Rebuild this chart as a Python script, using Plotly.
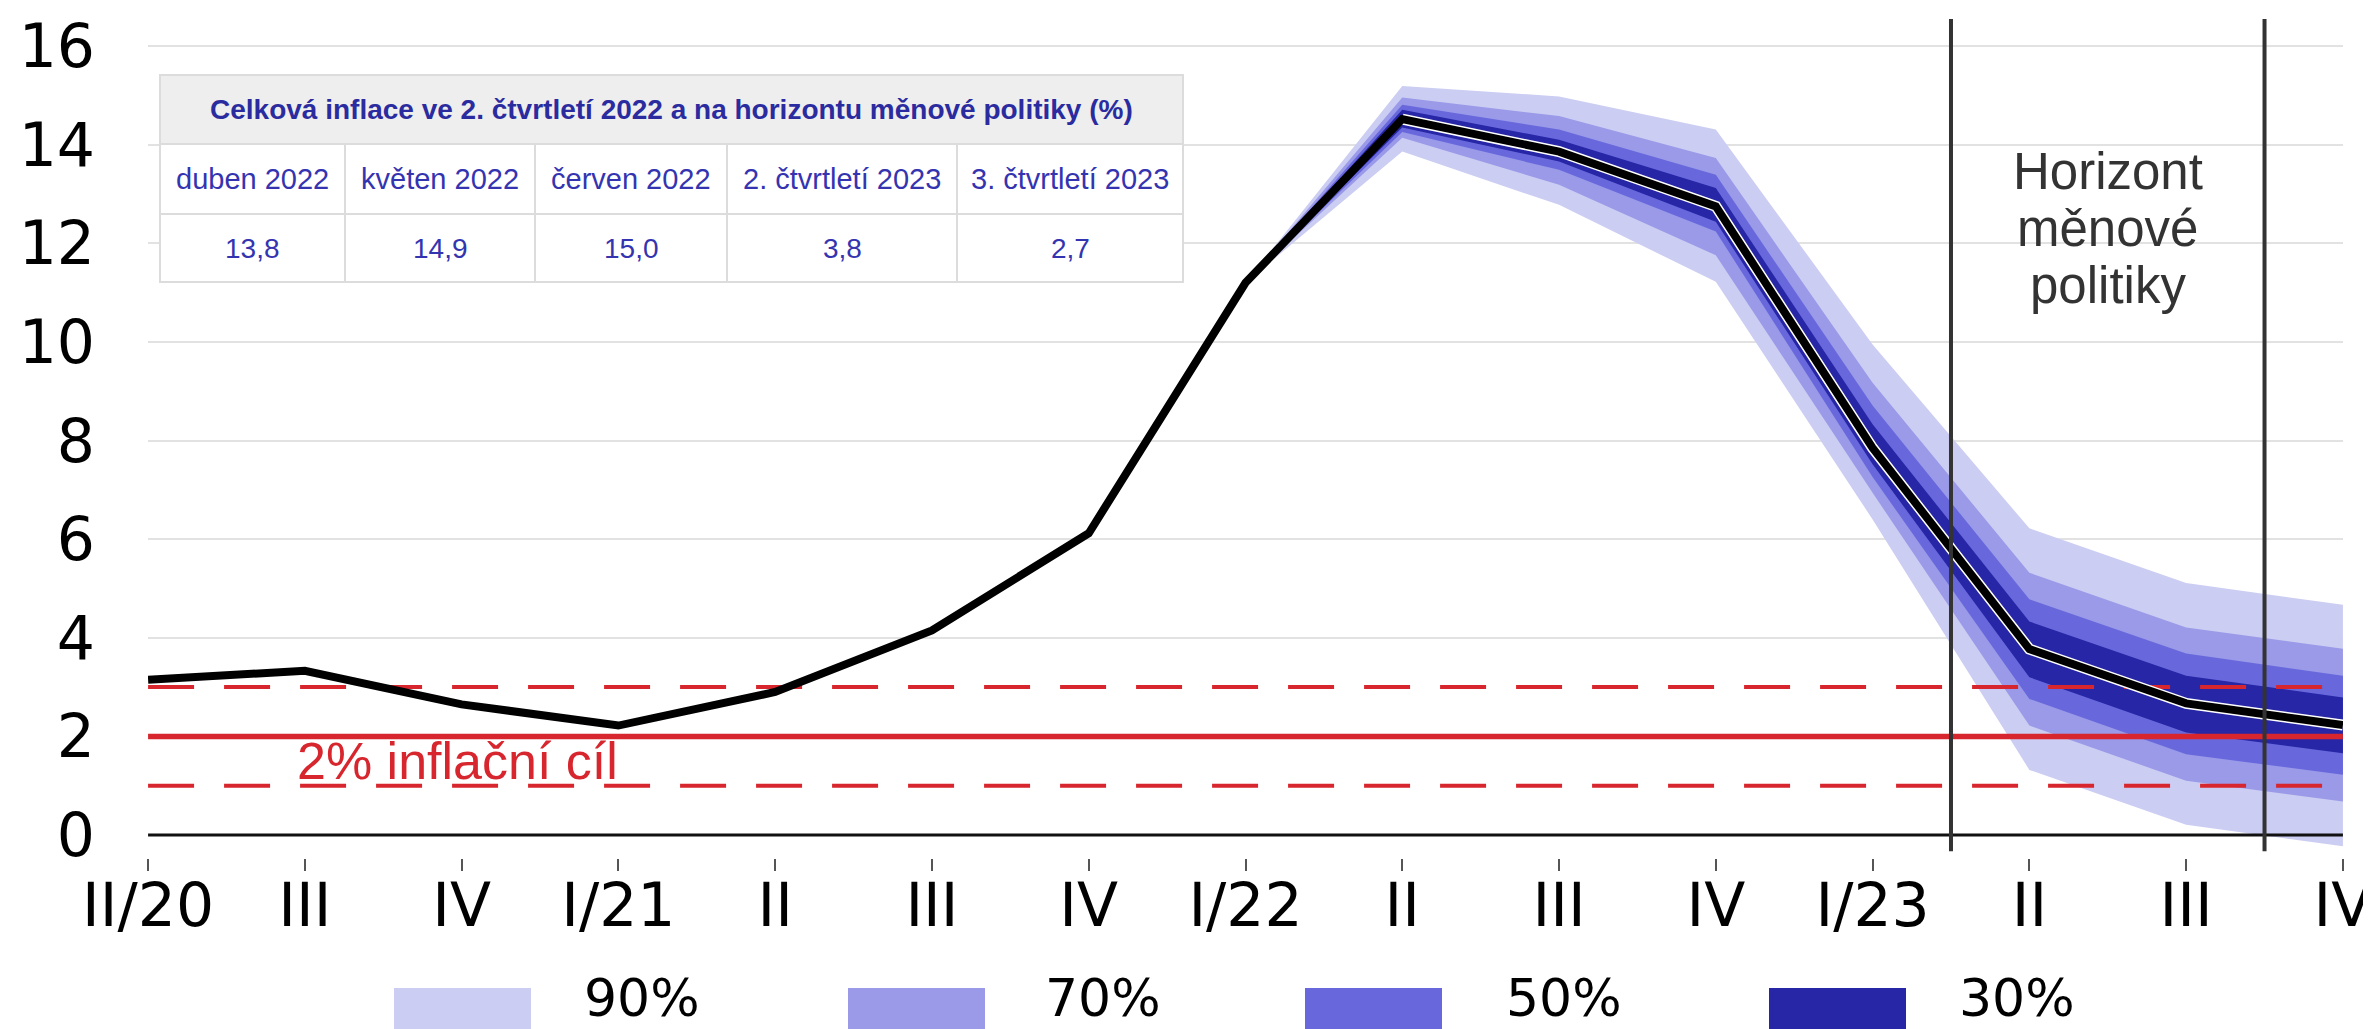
import plotly.graph_objects as go

# ---------------- data ----------------
quarters = ["II/20", "III", "IV", "I/21", "II", "III", "IV", "I/22",
            "II", "III", "IV", "I/23", "II", "III", "IV"]
inflation = [3.15, 3.33, 2.65, 2.22, 2.90, 4.15, 6.12, 11.2,
             14.52, 13.86, 12.75, 7.85, 3.77, 2.67, 2.23]

fan_start = 7  # index of I/22 where the fan opens
band_labels = ["90%", "70%", "50%", "30%"]
band_colors = ["#cccdf2", "#9a9ae9", "#6868dc", "#2626a6"]
band_upper = {
    "90%": [11.2, 15.19, 14.98, 14.31, 9.95, 6.22, 5.11, 4.67],
    "70%": [11.2, 14.96, 14.58, 13.73, 9.17, 5.32, 4.21, 3.78],
    "50%": [11.2, 14.81, 14.31, 13.39, 8.71, 4.78, 3.68, 3.23],
    "30%": [11.2, 14.71, 14.10, 13.12, 8.33, 4.33, 3.23, 2.79],
}
band_lower = {
    "90%": [11.2, 13.86, 12.78, 11.22, 6.40, 1.32, 0.21, -0.23],
    "70%": [11.2, 14.14, 13.19, 11.76, 6.94, 2.22, 1.10, 0.68],
    "50%": [11.2, 14.26, 13.49, 12.24, 7.26, 2.76, 1.64, 1.22],
    "30%": [11.2, 14.35, 13.66, 12.44, 7.52, 3.20, 2.08, 1.66],
}

target = 2.0
tolerance = [1.0, 3.0]
target_label = "2% inflační cíl"

horizon_bounds = [11.5, 13.5]
horizon_lines = ["Horizont", "měnové", "politiky"]

table_title = "Celková inflace ve 2. čtvrtletí 2022 a na horizontu měnové politiky (%)"
table_cols = ["duben 2022", "květen 2022", "červen 2022", "2. čtvrtletí 2023", "3. čtvrtletí 2023"]
table_vals = [13.8, 14.9, 15.0, 3.8, 2.7]

y_ticks = [0, 2, 4, 6, 8, 10, 12, 14, 16]

# ---------------- geometry (pixels) ----------------
W, H = 2371, 1029
ML, MR, MT, MB = 140, 36, 10, 179
PW, PH = W - ML - MR, H - MT - MB
Y_RANGE = [-0.466, 16.57]


def px_x(p):
    return (p - ML) / PW


def px_y(p):
    return (H - MB - p) / PH


FONT = "Liberation Sans, Arial, sans-serif"
WIDE = "DejaVu Sans, Liberation Sans, sans-serif"
RED = "#d7262d"

x_idx = list(range(len(quarters)))
fan_x = x_idx[fan_start:]

fig = go.Figure()

# fan bands (widest first)
for lab, col in zip(band_labels, band_colors):
    up = band_upper[lab]
    lo = band_lower[lab]
    fig.add_trace(go.Scatter(
        x=fan_x + fan_x[::-1], y=up + lo[::-1],
        fill="toself", fillcolor=col, mode="lines",
        line=dict(width=0, color=col), hoverinfo="skip", showlegend=False))

# target and tolerance band
x_ends = [x_idx[0], x_idx[-1]]
for t in tolerance:
    fig.add_trace(go.Scatter(x=x_ends, y=[t, t], mode="lines",
                             line=dict(color=RED, width=4, dash="46px,30px"),
                             hoverinfo="skip", showlegend=False))
fig.add_trace(go.Scatter(x=x_ends, y=[target, target], mode="lines",
                         line=dict(color=RED, width=5.5),
                         hoverinfo="skip", showlegend=False))

# white outline of forecast line
fig.add_trace(go.Scatter(x=x_idx[fan_start + 1:], y=inflation[fan_start + 1:],
                         mode="lines", line=dict(color="white", width=11),
                         hoverinfo="skip", showlegend=False))
# main line
fig.add_trace(go.Scatter(x=x_idx, y=inflation, mode="lines",
                         line=dict(color="black", width=8),
                         hoverinfo="skip", showlegend=False))

shapes = []
# zero line on top
shapes.append(dict(type="line", xref="x", yref="y", x0=x_idx[0], x1=x_idx[-1], y0=0, y1=0,
                   line=dict(color="#111111", width=3), layer="above"))
# horizon vertical lines
for hb in horizon_bounds:
    shapes.append(dict(type="line", xref="x", yref="y", x0=hb, x1=hb, y0=-0.33, y1=16.55,
                       line=dict(color="#333333", width=4), layer="above"))

annotations = []
# horizon text
for i, line in enumerate(horizon_lines):
    annotations.append(dict(text=line, x=sum(horizon_bounds) / 2, xref="x",
                            y=px_y(163.5 + 57 * i), yref="paper",
                            xanchor="center", yanchor="middle", showarrow=False,
                            font=dict(family=FONT, size=51, color="#333333")))
# target label
annotations.append(dict(text=target_label, x=px_x(287), xref="paper", y=1.5, yref="y",
                        xanchor="left", yanchor="middle", showarrow=False,
                        font=dict(family=FONT, size=52, color=RED)))

# ---------------- table ----------------
col_edges = [152, 337, 527, 719, 949, 1175]
row_edges = [67, 136, 206, 274]
GRID = "#dcdcdc"
TXT = "#3434b0"
shapes.append(dict(type="rect", xref="paper", yref="paper",
                   x0=px_x(col_edges[0]), x1=px_x(col_edges[-1]),
                   y0=px_y(row_edges[1]), y1=px_y(row_edges[0]),
                   fillcolor="#eeeeee", line=dict(color=GRID, width=2), layer="above"))
for r in (1, 2):
    for c in range(len(table_cols)):
        shapes.append(dict(type="rect", xref="paper", yref="paper",
                           x0=px_x(col_edges[c]), x1=px_x(col_edges[c + 1]),
                           y0=px_y(row_edges[r + 1]), y1=px_y(row_edges[r]),
                           fillcolor="white", line=dict(color=GRID, width=2), layer="above"))
annotations.append(dict(text="<b>" + table_title + "</b>", xref="paper", yref="paper",
                        x=px_x((col_edges[0] + col_edges[-1]) / 2),
                        y=px_y((row_edges[0] + row_edges[1]) / 2),
                        xanchor="center", yanchor="middle", showarrow=False,
                        font=dict(family=FONT, size=28, color="#2b2ba0")))
for c, (lab, val) in enumerate(zip(table_cols, table_vals)):
    cx = px_x((col_edges[c] + col_edges[c + 1]) / 2)
    annotations.append(dict(text=lab, xref="paper", yref="paper", x=cx,
                            y=px_y((row_edges[1] + row_edges[2]) / 2),
                            xanchor="center", yanchor="middle", showarrow=False,
                            font=dict(family=FONT, size=29, color=TXT)))
    annotations.append(dict(text=f"{val:.1f}".replace(".", ","), xref="paper", yref="paper", x=cx,
                            y=px_y((row_edges[2] + row_edges[3]) / 2),
                            xanchor="center", yanchor="middle", showarrow=False,
                            font=dict(family=FONT, size=28, color=TXT)))

# ---------------- legend (manual) ----------------
sw_left = [386, 840, 1297, 1761]
lab_left = [575, 1036, 1497, 1950]
for lab, col, sl, ll in zip(band_labels, band_colors, sw_left, lab_left):
    shapes.append(dict(type="rect", xref="paper", yref="paper",
                       x0=px_x(sl), x1=px_x(sl + 137), y0=px_y(1024), y1=px_y(980),
                       fillcolor=col, line=dict(width=0), layer="above"))
    annotations.append(dict(text=lab, xref="paper", yref="paper", x=px_x(ll), y=px_y(990),
                            xanchor="left", yanchor="middle", showarrow=False, borderpad=0,
                            font=dict(family=WIDE, size=52, color="black")))

fig.update_layout(
    template="none",
    width=W, height=H, autosize=False,
    margin=dict(l=ML, r=MR, t=MT, b=MB, autoexpand=False),
    paper_bgcolor="white", plot_bgcolor="white",
    showlegend=False,
    shapes=shapes, annotations=annotations,
    xaxis=dict(range=[x_idx[0] - 0.0005, x_idx[-1] + 0.0005], tickmode="array",
               tickvals=x_idx, ticktext=quarters, automargin=False,
               showgrid=False, zeroline=False, showline=False,
               ticks="outside", ticklen=12, tickwidth=2, tickcolor="#555555",
               tickfont=dict(family=WIDE, size=60, color="black"), ticklabelstandoff=-17),
    yaxis=dict(range=Y_RANGE, tickmode="array", tickvals=y_ticks, automargin=False,
               showgrid=True, gridcolor="#e2e2e2", gridwidth=2, zeroline=False, showline=False,
               ticks="", tickfont=dict(family=WIDE, size=60, color="black"),
               ticklabelstandoff=52),
)

fig.write_html("out.html")
